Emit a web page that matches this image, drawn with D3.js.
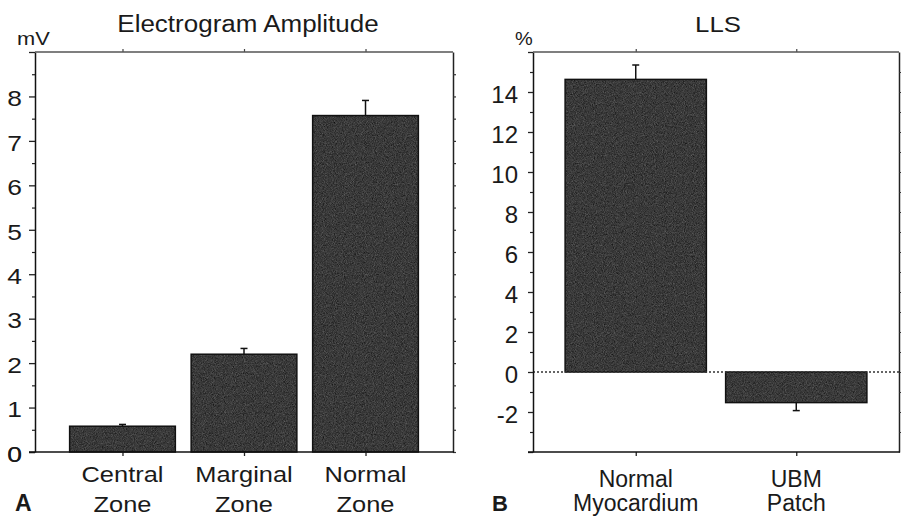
<!DOCTYPE html>
<html>
<head>
<meta charset="utf-8">
<script src="https://cdn.jsdelivr.net/npm/d3@7"></script>
<style>
  html, body { margin: 0; padding: 0; background: #fff; }
  svg { display: block; }
  text { font-family: "Liberation Sans", Arial, sans-serif; fill: #1a1a1a; }
</style>
</head>
<body>
<svg id="chart" width="901" height="517"></svg>
<script>
// ---- Data ----
const categoriesA = [["Central", "Zone"], ["Marginal", "Zone"], ["Normal", "Zone"]];
const valuesA = [0.58, 2.2, 7.57];
const errorsA = [0.04, 0.13, 0.34];
const ticksA = [0, 1, 2, 3, 4, 5, 6, 7, 8];
const minorTicksA = [0.5, 1.5, 2.5, 3.5, 4.5, 5.5, 6.5, 7.5, 8.5];

const categoriesB = [["Normal", "Myocardium"], ["UBM", "Patch"]];
const valuesB = [14.63, -1.53];
const errorsB = [0.72, 0.40];
const ticksB = [-2, 0, 2, 4, 6, 8, 10, 12, 14];
const minorTicksB = [-3, -1, 1, 3, 5, 7, 9, 11, 13, 15];

const svg = d3.select("#chart");

// grain filter for bar texture
const defs = svg.append("defs");
const f = defs.append("filter").attr("id", "grain")
  .attr("x", 0).attr("y", 0).attr("width", 1).attr("height", 1)
  .attr("color-interpolation-filters", "sRGB");
f.append("feTurbulence").attr("type", "fractalNoise").attr("baseFrequency", 1.1)
  .attr("numOctaves", 2).attr("seed", 5).attr("result", "noise");
f.append("feColorMatrix").attr("in", "noise").attr("type", "matrix")
  .attr("values", "0.33 0.33 0.33 0 0  0.33 0.33 0.33 0 0  0.33 0.33 0.33 0 0  0 0 0 0 1")
  .attr("result", "gray");
const ct = f.append("feComponentTransfer").attr("in", "gray").attr("result", "g2");
["feFuncR", "feFuncG", "feFuncB"].forEach(n =>
  ct.append(n).attr("type", "linear").attr("slope", 0.6).attr("intercept", -0.07));
f.append("feComposite").attr("in", "g2").attr("in2", "SourceGraphic").attr("operator", "in");

function addText(g, x, y, txt, size, anchor, sx, weight) {
  return g.append("text")
    .attr("transform", `translate(${x},${y}) scale(${sx},1)`)
    .attr("text-anchor", anchor).attr("font-size", size)
    .attr("font-weight", weight || "normal").text(txt);
}

function panel(opts) {
  const { left, right, top, bottom, domain, cats, vals, errs, ticks, minor,
          pi, po, title, titleX, titleSize, titleSx, unit, unitX, unitSx, letter, letterX, letterSize,
          tickFont, tickPad, majorLen, catFont, catSx, catY1, catY2, sx, zeroLine } = opts;
  const g = svg.append("g");
  const x = d3.scaleBand().domain(d3.range(cats.length)).range([left, right])
    .paddingInner(pi).paddingOuter(po);
  const y = d3.scaleLinear().domain(domain).range([bottom, top]);

  // bars
  g.selectAll("rect.bar").data(vals).join("rect")
    .attr("x", (d, i) => x(i))
    .attr("width", x.bandwidth())
    .attr("y", d => y(Math.max(0, d)))
    .attr("height", d => Math.abs(y(d) - y(0)))
    .attr("fill", "#3a3a3a")
    .attr("filter", "url(#grain)");
  g.selectAll("rect.outline").data(vals).join("rect")
    .attr("x", (d, i) => x(i))
    .attr("width", x.bandwidth())
    .attr("y", d => y(Math.max(0, d)))
    .attr("height", d => Math.abs(y(d) - y(0)))
    .attr("fill", "none").attr("stroke", "#111").attr("stroke-width", 1.5);

  // error bars
  const cx = i => x(i) + x.bandwidth() / 2;
  g.selectAll("line.err").data(vals).join("line")
    .attr("x1", (d, i) => cx(i)).attr("x2", (d, i) => cx(i))
    .attr("y1", d => y(d)).attr("y2", (d, i) => y(d + Math.sign(d) * errs[i]))
    .attr("stroke", "#111").attr("stroke-width", 1.5);
  g.selectAll("line.cap").data(vals).join("line")
    .attr("x1", (d, i) => cx(i) - 3.5).attr("x2", (d, i) => cx(i) + 3.5)
    .attr("y1", (d, i) => y(d + Math.sign(d) * errs[i]))
    .attr("y2", (d, i) => y(d + Math.sign(d) * errs[i]))
    .attr("stroke", "#111").attr("stroke-width", 1.5);

  if (zeroLine) {
    g.append("line").attr("x1", left).attr("x2", right)
      .attr("y1", y(0)).attr("y2", y(0))
      .attr("stroke", "#333").attr("stroke-width", 1.3).attr("stroke-dasharray", "2,2");
  }

  // left axis major
  const axL = g.append("g").attr("transform", `translate(${left},0)`)
    .call(d3.axisLeft(y).tickValues(ticks.concat(domain)).tickSize(majorLen)
      .tickPadding(tickPad).tickSizeOuter(0)
      .tickFormat(d => ticks.includes(d) ? String(d) : ""));
  axL.select(".domain").attr("stroke", "#111").attr("stroke-width", 1.5);
  axL.selectAll(".tick line").attr("stroke", "#222").attr("stroke-width", 1.3);
  axL.selectAll(".tick text")
    .attr("x", 0).attr("dy", "0.42em")
    .attr("transform", `translate(${-(majorLen + tickPad)},0) scale(${sx},1)`)
    .attr("font-size", tickFont)
    .style("font-family", '"Liberation Sans", Arial, sans-serif').attr("fill", "#1a1a1a");
  // left axis minor
  const axLm = g.append("g").attr("transform", `translate(${left},0)`)
    .call(d3.axisLeft(y).tickValues(minor).tickSize(3).tickFormat("").tickSizeOuter(0));
  axLm.select(".domain").remove();
  axLm.selectAll(".tick line").attr("stroke", "#222").attr("stroke-width", 1.2);

  // right axis
  const axR = g.append("g").attr("transform", `translate(${right},0)`)
    .call(d3.axisRight(y).tickValues(ticks.concat(minor)).tickSize(3).tickFormat("").tickSizeOuter(0));
  axR.select(".domain").attr("stroke", "#222").attr("stroke-width", 1.5);
  axR.selectAll(".tick line").attr("stroke", "#333").attr("stroke-width", 1.2);

  // top axis
  const axT = g.append("g").attr("transform", `translate(0,${top})`)
    .call(d3.axisTop(d3.scaleIdentity()).tickValues(cats.map((c, i) => cx(i)))
      .tickSize(3).tickFormat("").tickSizeOuter(0));
  axT.select(".domain").remove();
  axT.selectAll(".tick line").attr("stroke", "#444").attr("stroke-width", 1.2);
  g.append("line").attr("x1", left).attr("x2", right).attr("y1", top).attr("y2", top)
    .attr("stroke", "#555").attr("stroke-width", 1.5);

  // bottom axis
  const axB = g.append("g").attr("transform", `translate(0,${bottom})`)
    .call(d3.axisBottom(d3.scaleIdentity()).tickValues(cats.map((c, i) => cx(i)))
      .tickSize(4).tickFormat("").tickSizeOuter(0));
  axB.select(".domain").remove();
  axB.selectAll(".tick line").attr("stroke", "#222").attr("stroke-width", 1.3);
  g.append("line").attr("x1", left - majorLen).attr("x2", right + 1).attr("y1", bottom).attr("y2", bottom)
    .attr("stroke", "#111").attr("stroke-width", 1.5);

  // category labels
  cats.forEach((c, i) => {
    addText(g, cx(i), catY1, c[0], catFont, "middle", catSx);
    addText(g, cx(i), catY2, c[1], catFont, "middle", catSx);
  });

  // title, unit, letter
  addText(g, titleX, 32, title, titleSize, "middle", titleSx);
  addText(g, unitX, 45, unit, 19, "start", unitSx);
  addText(g, letterX, 511, letter, letterSize, "start", 1, "bold").attr("fill", "#000");
}

panel({
  left: 35, right: 453, top: 52, bottom: 452, domain: [0, 9],
  cats: categoriesA, vals: valuesA, errs: errorsA, ticks: ticksA, minor: minorTicksA,
  pi: 0.13, po: 0.285, title: "Electrogram Amplitude", titleX: 248, titleSize: 23, titleSx: 1.13,
  unit: "mV", unitX: 17, unitSx: 1.15, letter: "A", letterX: 15, letterSize: 23,
  tickFont: 22, tickPad: 7, majorLen: 6, catFont: 22.5, catSx: 1.13, catY1: 482, catY2: 512,
  sx: 1.2, zeroLine: false
});

panel({
  left: 533, right: 899, top: 52, bottom: 452, domain: [-4, 16],
  cats: categoriesB, vals: valuesB, errs: errorsB, ticks: ticksB, minor: minorTicksB,
  pi: 0.12, po: 0.2, title: "LLS", titleX: 718, titleSize: 23, titleSx: 1.12,
  unit: "%", unitX: 515, unitSx: 1.05, letter: "B", letterX: 492, letterSize: 22,
  tickFont: 24, tickPad: 10, majorLen: 5, catFont: 23, catSx: 1, catY1: 487, catY2: 511,
  sx: 1.0, zeroLine: true
});
</script>
</body>
</html>
